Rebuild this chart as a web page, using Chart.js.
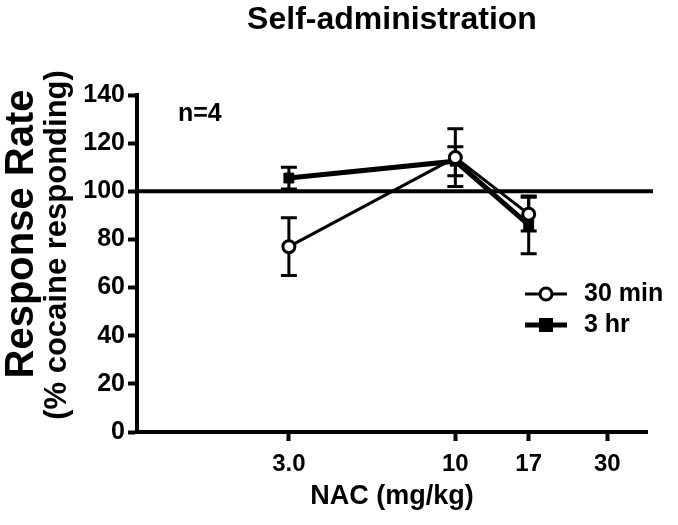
<!DOCTYPE html>
<html>
<head>
<meta charset="utf-8">
<script src="https://cdn.jsdelivr.net/npm/chart.js@4/dist/chart.umd.min.js"></script>
<style>
  html, body { margin: 0; padding: 0; background: #fff; }
  canvas { display: block; }
</style>
</head>
<body>
<canvas id="chart" width="678" height="525"></canvas>
<script>
// Data
const doses = [3, 10, 17];
const min30Mean = [77, 114, 90.5];
const min30Err = [12, 12, 7];
const hr3Mean = [105.5, 112.5, 86];
const hr3Err = [4.5, 6, 12];
const xTicks = [3, 10, 17, 30];
const xTickLabels = ['3.0', '10', '17', '30'];
const baseline = 100;

const FONT = '"Liberation Sans", Arial, Helvetica, sans-serif';

function pts(means) {
    return doses.map((d, i) => ({ x: d, y: means[i] }));
}

// error bars + the 100% reference line, drawn through the scales
const errorBars = {
    id: 'errorBars',
    beforeDatasetsDraw(chart) {
        const { ctx, scales: { x, y }, chartArea } = chart;
        ctx.save();
        ctx.strokeStyle = '#000';
        ctx.lineCap = 'butt';

        // reference line
        ctx.lineWidth = 4;
        const yb = y.getPixelForValue(baseline);
        ctx.beginPath();
        ctx.moveTo(chartArea.left, yb);
        ctx.lineTo(chartArea.right + 6, yb);
        ctx.stroke();

        const sets = [[min30Mean, min30Err], [hr3Mean, hr3Err]];
        sets.forEach(([means, errs]) => {
            doses.forEach((d, i) => {
                const px = x.getPixelForValue(d);
                const top = y.getPixelForValue(means[i] + errs[i]);
                const bot = y.getPixelForValue(means[i] - errs[i]);
                ctx.lineWidth = 3;
                ctx.beginPath();
                ctx.moveTo(px, top);
                ctx.lineTo(px, bot);
                ctx.stroke();
                ctx.beginPath();
                ctx.moveTo(px - 8, top);
                ctx.lineTo(px + 8, top);
                ctx.moveTo(px - 8, bot);
                ctx.lineTo(px + 8, bot);
                ctx.stroke();
            });
        });
        ctx.restore();
    }
};

// titles, annotation and legend
const labelsPlugin = {
    id: 'labels',
    afterDraw(chart) {
        const { ctx, chartArea } = chart;
        const cx = (chartArea.left + chartArea.right) / 2;
        ctx.save();
        ctx.fillStyle = '#000';
        ctx.textBaseline = 'middle';
        ctx.textAlign = 'center';

        ctx.font = 'bold 32px ' + FONT;
        ctx.fillText('Self-administration', cx, 20);

        ctx.font = 'bold 27px ' + FONT;
        ctx.fillText('NAC (mg/kg)', cx, 497);

        ctx.save();
        ctx.translate(22, 234);
        ctx.rotate(-Math.PI / 2);
        ctx.font = 'bold 40px ' + FONT;
        ctx.fillText('Response Rate', 0, 0);
        ctx.restore();
        ctx.save();
        ctx.translate(57, 245);
        ctx.rotate(-Math.PI / 2);
        ctx.font = 'bold 31px ' + FONT;
        ctx.fillText('(% cocaine responding)', 0, 0);
        ctx.restore();

        ctx.font = 'bold 25px ' + FONT;
        ctx.textAlign = 'left';
        ctx.fillText('n=4', 178, 114);

        // legend
        const lx0 = 525, lx1 = 567, lmid = 546;
        const rows = [294, 325];
        ctx.strokeStyle = '#000';
        ctx.lineWidth = 3;
        ctx.beginPath();
        ctx.moveTo(lx0, rows[0]);
        ctx.lineTo(lx1, rows[0]);
        ctx.stroke();
        ctx.fillStyle = '#fff';
        ctx.beginPath();
        ctx.arc(lmid, rows[0], 6, 0, Math.PI * 2);
        ctx.fill();
        ctx.stroke();
        ctx.lineWidth = 5;
        ctx.beginPath();
        ctx.moveTo(lx0, rows[1]);
        ctx.lineTo(lx1, rows[1]);
        ctx.stroke();
        ctx.fillStyle = '#000';
        ctx.fillRect(lmid - 7, rows[1] - 7, 14, 14);

        ctx.fillText('30 min', 584, rows[0]);
        ctx.fillText('3 hr', 584, rows[1]);
        ctx.restore();
    }
};

new Chart(document.getElementById('chart'), {
    type: 'scatter',
    data: {
        datasets: [
            {
                label: '3 hr',
                data: pts(hr3Mean),
                showLine: true,
                borderColor: '#000',
                borderWidth: 5,
                pointStyle: 'rect',
                pointRadius: 7,
                pointBackgroundColor: '#000',
                pointBorderColor: '#000',
                pointBorderWidth: 1,
                order: 2
            },
            {
                label: '30 min',
                data: pts(min30Mean),
                showLine: true,
                borderColor: '#000',
                borderWidth: 3,
                pointStyle: 'circle',
                pointRadius: 6,
                pointBackgroundColor: '#fff',
                pointBorderColor: '#000',
                pointBorderWidth: 3,
                order: 1
            }
        ]
    },
    options: {
        responsive: false,
        animation: false,
        devicePixelRatio: 1,
        layout: { padding: { top: 95, right: 31, left: 0, bottom: 0 } },
        plugins: {
            legend: { display: false },
            title: { display: false },
            tooltip: { enabled: false }
        },
        scales: {
            x: {
                type: 'logarithmic',
                min: 1,
                max: 40,
                afterBuildTicks: (scale) => { scale.ticks = xTicks.map(v => ({ value: v })); },
                afterFit: (scale) => { scale.height = 93; },
                ticks: {
                    color: '#000',
                    font: { family: FONT, size: 24, weight: 'bold' },
                    padding: 9,
                    maxRotation: 0,
                    autoSkip: false,
                    callback: (v) => {
                        const i = xTicks.indexOf(v);
                        return i >= 0 ? xTickLabels[i] : '';
                    }
                },
                grid: { drawOnChartArea: false, drawTicks: true, tickLength: 9, tickWidth: 4, tickColor: '#000' },
                border: { display: true, color: '#000', width: 4 }
            },
            y: {
                min: 0,
                max: 140,
                afterFit: (scale) => { scale.width = 137; },
                ticks: {
                    stepSize: 20,
                    color: '#000',
                    font: { family: FONT, size: 25, weight: 'bold' },
                    padding: 3
                },
                grid: { drawOnChartArea: false, drawTicks: true, tickLength: 9, tickWidth: 4, tickColor: '#000' },
                border: { display: true, color: '#000', width: 4 }
            }
        }
    },
    plugins: [errorBars, labelsPlugin]
});
</script>
</body>
</html>
